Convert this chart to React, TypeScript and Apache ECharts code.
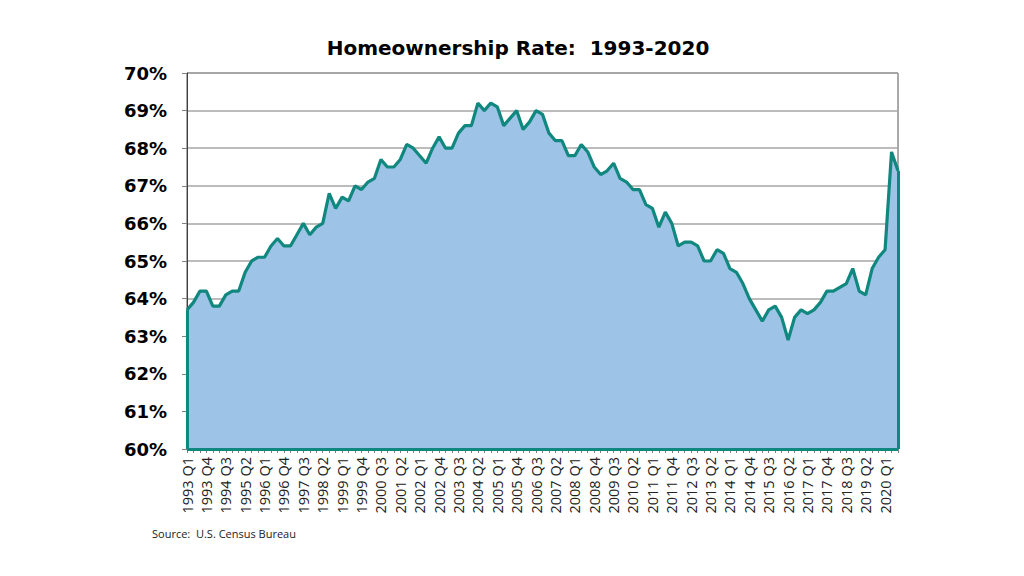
import React, { useEffect, useRef } from "react";
import * as echarts from "echarts";

const years = [1993, 1994, 1995, 1996, 1997, 1998, 1999, 2000, 2001, 2002, 2003, 2004, 2005, 2006, 2007, 2008, 2009, 2010, 2011, 2012, 2013, 2014, 2015, 2016, 2017, 2018, 2019, 2020];
const quarters = ["Q1", "Q2", "Q3", "Q4"];

const rates1990s = [
  63.7, 63.9, 64.2, 64.2,
  63.8, 63.8, 64.1, 64.2,
  64.2, 64.7, 65.0, 65.1,
  65.1, 65.4, 65.6, 65.4,
  65.4, 65.7, 66.0, 65.7,
  65.9, 66.0, 66.8, 66.4,
  66.7, 66.6, 67.0, 66.9,
];
const rates2000s = [
  67.1, 67.2, 67.7, 67.5,
  67.5, 67.7, 68.1, 68.0,
  67.8, 67.6, 68.0, 68.3,
  68.0, 68.0, 68.4, 68.6,
  68.6, 69.2, 69.0, 69.2,
  69.1, 68.6, 68.8, 69.0,
  68.5, 68.7, 69.0, 68.9,
  68.4, 68.2, 68.2, 67.8,
  67.8, 68.1, 67.9, 67.5,
  67.3, 67.4, 67.6, 67.2,
];
const rates2010s = [
  67.1, 66.9, 66.9, 66.5,
  66.4, 65.9, 66.3, 66.0,
  65.4, 65.5, 65.5, 65.4,
  65.0, 65.0, 65.3, 65.2,
  64.8, 64.7, 64.4, 64.0,
  63.7, 63.4, 63.7, 63.8,
  63.5, 62.9, 63.5, 63.7,
  63.6, 63.7, 63.9, 64.2,
  64.2, 64.3, 64.4, 64.8,
  64.2, 64.1, 64.8, 65.1,
];
const rates2020 = [65.3, 67.9, 67.4];

const yMin = 60;
const yMax = 70;
const yStep = 1;

const TEAL = "#10877F";
const FILL = "#9DC3E6";

export default function App() {
  const ref = useRef<HTMLDivElement>(null);

  useEffect(() => {
    if (!ref.current) return;
    const chart = echarts.init(ref.current, undefined, { renderer: "svg" });

    const values = [...rates1990s, ...rates2000s, ...rates2010s, ...rates2020];
    const categories: string[] = [];
    for (const y of years) {
      for (const q of quarters) {
        if (categories.length < values.length) categories.push(`${y} ${q}`);
      }
    }
    const last = values.length - 1;

    chart.setOption({
      animation: false,
      backgroundColor: "#ffffff",
      title: {
        text: "Homeownership Rate:  1993-2020",
        left: 513,
        textAlign: "center",
        top: 33,
        textStyle: {
          fontFamily: "DejaVu Sans",
          fontWeight: "bold",
          fontSize: 20,
          color: "#000000",
        },
      },
      graphic: [
        {
          type: "text",
          left: 152,
          top: 528,
          style: {
            text: "Source:  U.S. Census Bureau",
            fontFamily: "Open Sans",
            fontSize: 11,
            fill: "#222222",
          },
        },
      ],
      grid: {
        left: 187,
        right: 126,
        top: 73,
        bottom: 127,
        containLabel: false,
        show: true,
        borderColor: "#555555",
        borderWidth: 1,
        backgroundColor: "transparent",
      },
      xAxis: {
        type: "category",
        data: categories,
        boundaryGap: false,
        axisLine: { show: true, lineStyle: { color: "#808080", width: 1 } },
        axisTick: { show: true, interval: 0, length: 4, lineStyle: { color: "#808080" } },
        axisLabel: {
          interval: 2,
          rotate: 90,
          margin: 8,
          fontFamily: "Open Sans",
          fontSize: 14.5,
          color: "#222222",
        },
        splitLine: { show: false },
      },
      yAxis: {
        type: "value",
        min: yMin,
        max: yMax,
        interval: yStep,
        axisLine: { show: true, lineStyle: { color: "#404040", width: 1 } },
        axisTick: { show: true, length: 5, lineStyle: { color: "#808080" } },
        axisLabel: {
          formatter: "{value}%",
          margin: 20,
          fontFamily: "DejaVu Sans",
          fontWeight: "bold",
          fontSize: 18,
          color: "#000000",
        },
        splitLine: { show: true, lineStyle: { color: "#A6A6A6", width: 1.5 } },
      },
      series: [
        {
          type: "line",
          data: values,
          symbol: "none",
          lineStyle: { color: TEAL, width: 3.2 },
          areaStyle: { color: FILL, opacity: 1, origin: "start" },
          markLine: {
            silent: true,
            symbol: "none",
            label: { show: false },
            lineStyle: { color: TEAL, width: 3, type: "solid" },
            data: [
              [{ coord: [0, yMin] }, { coord: [0, values[0]] }],
              [{ coord: [last, yMin] }, { coord: [last, values[last]] }],
              [{ coord: [0, yMin] }, { coord: [last, yMin] }],
            ],
          },
        },
      ],
    });

    return () => chart.dispose();
  }, []);

  return <div ref={ref} style={{ width: 1024, height: 576, position: "absolute", left: 0, top: 0 }} />;
}
